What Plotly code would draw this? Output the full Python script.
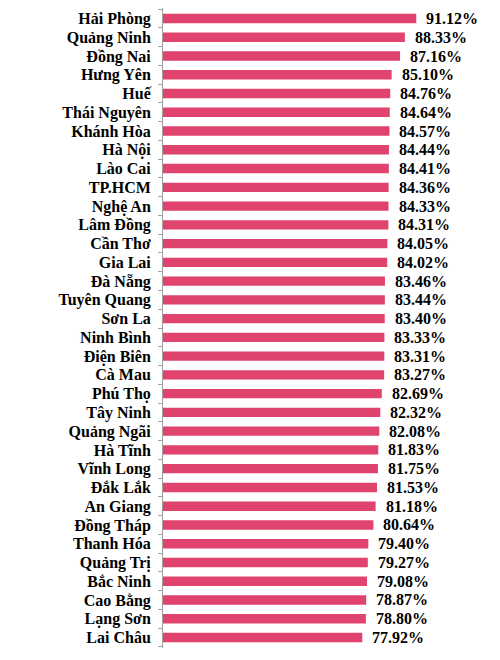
import plotly.graph_objects as go

provinces = [
    "Hải Phòng", "Quảng Ninh", "Đồng Nai", "Hưng Yên", "Huế", "Thái Nguyên",
    "Khánh Hòa", "Hà Nội", "Lào Cai", "TP.HCM", "Nghệ An", "Lâm Đồng",
    "Cần Thơ", "Gia Lai", "Đà Nẵng", "Tuyên Quang", "Sơn La", "Ninh Bình",
    "Điện Biên", "Cà Mau", "Phú Thọ", "Tây Ninh", "Quảng Ngãi", "Hà Tĩnh",
    "Vĩnh Long", "Đắk Lắk", "An Giang", "Đồng Tháp", "Thanh Hóa", "Quảng Trị",
    "Bắc Ninh", "Cao Bằng", "Lạng Sơn", "Lai Châu",
]
rates = [
    91.12, 88.33, 87.16, 85.10, 84.76, 84.64,
    84.57, 84.44, 84.41, 84.36, 84.33, 84.31,
    84.05, 84.02, 83.46, 83.44, 83.40, 83.33,
    83.31, 83.27, 82.69, 82.32, 82.08, 81.83,
    81.75, 81.53, 81.18, 80.64, 79.40, 79.27,
    79.08, 78.87, 78.80, 77.92,
]

FONT = "Liberation Serif"
BAR = "#E0436D"

fig = go.Figure(go.Bar(
    x=rates, y=provinces, orientation="h",
    marker=dict(color=BAR, line=dict(width=0)),
    hoverinfo="skip",
))

# value labels to the right of each bar
for p, v in zip(provinces, rates):
    fig.add_annotation(
        x=v, y=p, text=f"<b>{v:.2f}%</b>", showarrow=False,
        xanchor="left", xshift=8,
        font=dict(family=FONT, size=16, color="black"),
    )

# page body has an 8px margin, so the figure is a bit smaller than the window
fig.update_layout(
    width=492, height=652,
    margin=dict(l=155, r=20, t=0, b=12),
    plot_bgcolor="white", paper_bgcolor="white",
    bargap=0.5, showlegend=False,
    xaxis=dict(range=[29.2, 106.7], visible=False, automargin=False),
    yaxis=dict(
        autorange="reversed", automargin=False,
        tickmode="array", tickvals=provinces,
        ticktext=[f"<b>{p}</b>" for p in provinces],
        showline=True, linecolor="#A0A0A0", linewidth=1,
        ticks="outside", tickson="boundaries", ticklen=4,
        tickcolor="#A0A0A0", showgrid=False, ticklabelstandoff=8,
        tickfont=dict(family=FONT, size=16, color="black"),
    ),
)

fig.write_html("out.html")
